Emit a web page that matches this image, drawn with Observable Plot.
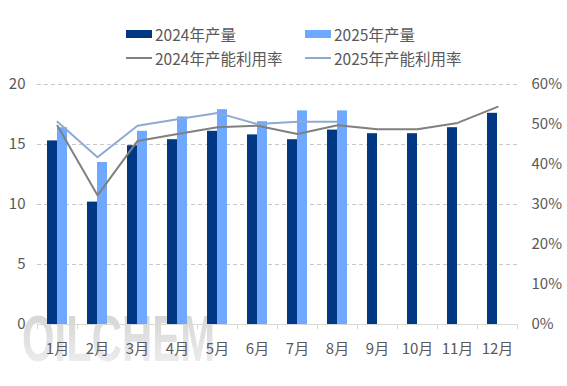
<!DOCTYPE html>
<html><head><meta charset="utf-8">
<script src="https://cdn.jsdelivr.net/npm/d3@7"></script>
<script src="https://cdn.jsdelivr.net/npm/@observablehq/plot@0.6"></script>
<style>
body{margin:0;background:#fff;font-family:"Noto Sans CJK SC","Noto Sans",sans-serif;}
#wrap{position:relative;width:567px;height:386px;overflow:hidden;}
#wm{position:absolute;left:0;top:0;}
#chart{position:absolute;left:0;top:0;}
.leg{position:absolute;font-size:15.5px;color:#595959;display:flex;align-items:center;white-space:nowrap;}
.sw{display:inline-block;width:26px;margin-right:3px;}
</style></head>
<body>
<div id="wrap">
<svg id="wm" width="567" height="386"><defs><linearGradient id="g" x1="0" y1="0" x2="0" y2="1"><stop offset="0" stop-color="#d0d0d0"/><stop offset="1" stop-color="#f2f2f2"/></linearGradient></defs>
<text x="22" y="361" font-size="64" font-weight="bold" font-family="Liberation Sans, sans-serif" fill="url(#g)" textLength="193" lengthAdjust="spacingAndGlyphs">OILCHEM</text></svg>
<div id="chart"></div>
<div class="leg" style="left:126px;top:23px;"><span class="sw" style="height:8px;background:#003883"></span>2024年产量</div>
<div class="leg" style="left:305px;top:23px;"><span class="sw" style="height:8px;background:#6EA8FF"></span>2025年产量</div>
<div class="leg" style="left:126px;top:47px;"><span class="sw" style="height:2px;background:#808080"></span>2024年产能利用率</div>
<div class="leg" style="left:305px;top:47px;"><span class="sw" style="height:2px;background:#8EA9D4"></span>2025年产能利用率</div>
</div>
<script>
const months = ["1月","2月","3月","4月","5月","6月","7月","8月","9月","10月","11月","12月"];
const prod2024 = [15.3,10.2,14.9,15.4,16.1,15.8,15.4,16.2,15.9,15.9,16.4,17.6];
const prod2025 = [16.4,13.5,16.1,17.3,17.9,16.9,17.8,17.8];
const util2024 = [49.7,32.3,45.9,47.6,49.3,49.7,47.6,49.8,48.8,48.8,50.4,54.4];
const util2025 = [50.7,41.8,49.7,51.3,52.9,50.1,50.7,50.7];
const leftTicks = [0,5,10,15,20];
const rightTicks = [0,10,20,30,40,50,60];

const b24 = months.map((m,i)=>({m,v:prod2024[i]}));
const b25 = prod2025.map((v,i)=>({m:months[i],v}));
const l24 = util2024.map((v,i)=>({m:months[i],v:v/3}));
const l25 = util2025.map((v,i)=>({m:months[i],v:v/3}));

const chart = Plot.plot({
  width:567, height:386,
  marginLeft:37, marginRight:50, marginTop:84, marginBottom:62,
  style:{fontSize:"15px", color:"#595959", fontFamily:"'Noto Sans CJK SC',sans-serif", background:"transparent"},
  x:{type:"band", domain:months, padding:0},
  y:{domain:[0,20]},
  marks:[
    Plot.ruleY([5,10,15,20],{stroke:"#c8c8c8",strokeDasharray:"4,3",strokeWidth:1}),
    Plot.barY(b24,{x:"m",y:"v",fill:"#003883",insetLeft:10,insetRight:20}),
    Plot.barY(b25,{x:"m",y:"v",fill:"#6EA8FF",insetLeft:20,insetRight:10}),
    Plot.ruleY([0],{stroke:"#d9d9d9",strokeWidth:1}),
    Plot.ruleX(months,{x:d=>d,y1:0,y2:-0.42,stroke:"#d9d9d9",dx:-20}),
    Plot.ruleX(["12月"],{x:d=>d,y1:0,y2:-0.42,stroke:"#d9d9d9",dx:20}),
    Plot.line(l24,{x:"m",y:"v",stroke:"#808080",strokeWidth:2}),
    Plot.line(l25,{x:"m",y:"v",stroke:"#8EA9D4",strokeWidth:2}),
    Plot.axisX({tickSize:0,tickPadding:19,label:null,fill:"#595959"}),
    Plot.axisY({anchor:"left",ticks:leftTicks,tickSize:0,tickPadding:12,label:null,fill:"#595959"}),
    Plot.axisY({anchor:"right",ticks:rightTicks.map(p=>p/3),tickFormat:d=>Math.round(d*3)+"%",tickSize:0,tickPadding:14,label:null,fill:"#595959"})
  ]
});
document.getElementById("chart").appendChild(chart);
</script>
</body></html>
